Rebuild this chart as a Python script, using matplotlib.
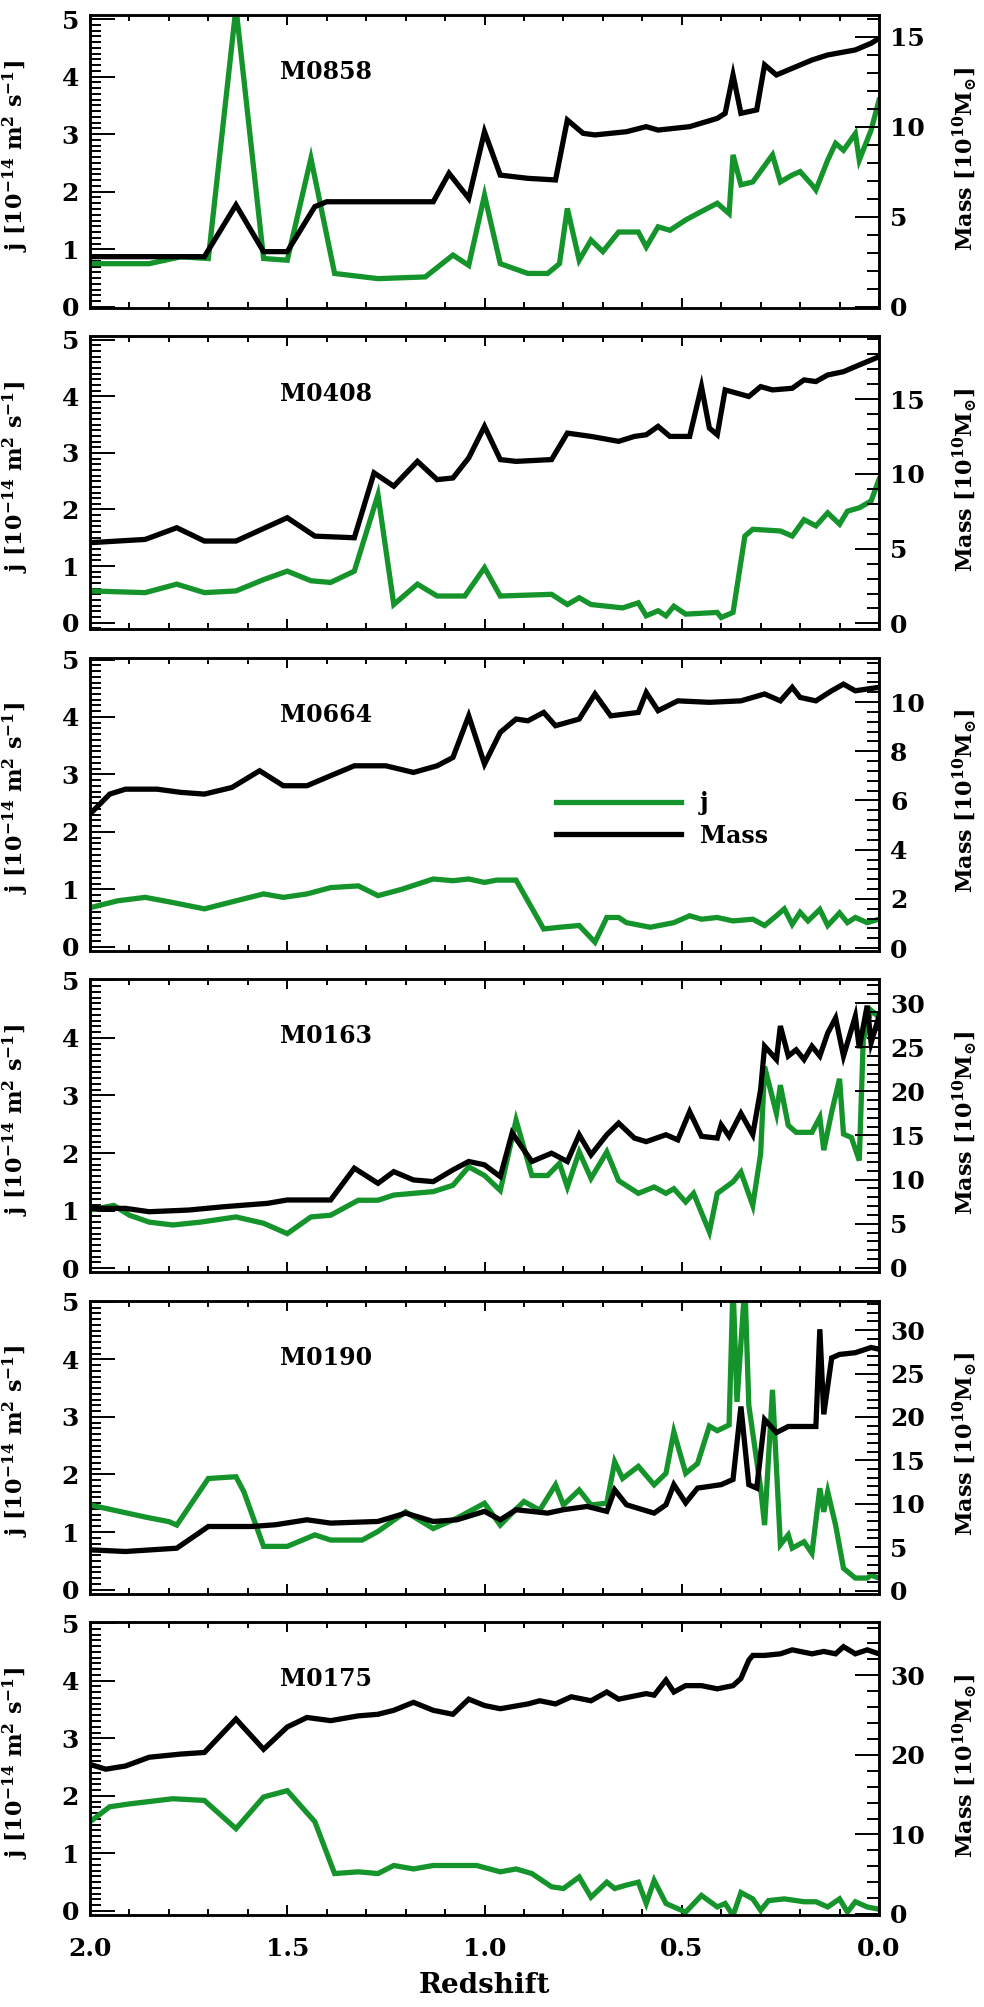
import numpy as np
import matplotlib
matplotlib.use("Agg")
import matplotlib.pyplot as plt
from matplotlib.ticker import MultipleLocator, FormatStrFormatter

# Halo names, top to bottom
halos = ["M0858", "M0408", "M0664", "M0163", "M0190", "M0175"]

# --- M0858 ---
z_j_0858 = [2.0, 1.85, 1.77, 1.7, 1.63, 1.56, 1.5, 1.44, 1.38, 1.27, 1.15, 1.08, 1.04, 1.0,
            0.96, 0.89, 0.84, 0.81, 0.79, 0.76, 0.73, 0.7, 0.66, 0.61, 0.59, 0.56, 0.53,
            0.49, 0.46, 0.41, 0.38, 0.37, 0.35, 0.32, 0.27, 0.25, 0.22, 0.2, 0.17, 0.16,
            0.13, 0.11, 0.09, 0.06, 0.05, 0.02, 0.0]
j_0858 = [0.75, 0.75, 0.87, 0.84, 5.2, 0.84, 0.81, 2.58, 0.58, 0.49, 0.52, 0.9, 0.72, 1.94,
          0.75, 0.58, 0.58, 0.75, 1.71, 0.81, 1.16, 0.96, 1.30, 1.30, 1.04, 1.39, 1.33,
          1.51, 1.62, 1.80, 1.62, 2.64, 2.12, 2.17, 2.64, 2.17, 2.29, 2.35, 2.12, 2.03,
          2.55, 2.84, 2.72, 3.01, 2.55, 3.07, 3.59]
z_m_0858 = [2.0, 1.71, 1.63, 1.56, 1.5, 1.43, 1.4, 1.13, 1.09, 1.04, 1.0, 0.96, 0.89, 0.82,
            0.79, 0.75, 0.72, 0.64, 0.59, 0.56, 0.48, 0.41, 0.39, 0.37, 0.35, 0.31, 0.29,
            0.26, 0.22, 0.17, 0.13, 0.06, 0.02, 0.0]
m_0858 = [2.78, 2.78, 5.65, 3.06, 3.06, 5.56, 5.83, 5.83, 7.41, 6.02, 9.72, 7.31, 7.13, 7.04,
          10.37, 9.63, 9.54, 9.72, 10.0, 9.81, 10.0, 10.46, 10.74, 12.87, 10.74, 10.93,
          13.43, 12.87, 13.24, 13.70, 13.98, 14.26, 14.63, 14.9]

# --- M0408 ---
z_j_0408 = [2.0, 1.86, 1.78, 1.71, 1.63, 1.56, 1.5, 1.44, 1.39, 1.33, 1.27, 1.23, 1.17, 1.12,
            1.05, 1.0, 0.96, 0.83, 0.79, 0.76, 0.73, 0.65, 0.61, 0.59, 0.56, 0.54, 0.52,
            0.49, 0.41, 0.4, 0.37, 0.34, 0.32, 0.25, 0.22, 0.19, 0.16, 0.13, 0.10, 0.08,
            0.05, 0.02, 0.0]
j_0408 = [0.56, 0.53, 0.68, 0.53, 0.56, 0.76, 0.91, 0.74, 0.71, 0.91, 2.26, 0.32, 0.68, 0.47,
          0.47, 0.97, 0.47, 0.50, 0.32, 0.44, 0.32, 0.26, 0.35, 0.12, 0.21, 0.12, 0.29,
          0.15, 0.18, 0.09, 0.18, 1.53, 1.65, 1.62, 1.53, 1.82, 1.71, 1.94, 1.74, 1.97,
          2.03, 2.15, 2.53]
z_m_0408 = [2.0, 1.86, 1.78, 1.71, 1.63, 1.5, 1.43, 1.33, 1.28, 1.23, 1.17, 1.12, 1.08, 1.04,
            1.0, 0.96, 0.92, 0.83, 0.79, 0.73, 0.66, 0.62, 0.59, 0.56, 0.53, 0.48, 0.45,
            0.43, 0.41, 0.39, 0.33, 0.30, 0.27, 0.22, 0.19, 0.16, 0.13, 0.09, 0.05, 0.0]
m_0408 = [5.4, 5.62, 6.4, 5.51, 5.51, 7.07, 5.84, 5.73, 10.07, 9.18, 10.84, 9.62, 9.73, 11.07,
          13.18, 10.96, 10.84, 10.96, 12.73, 12.51, 12.18, 12.51, 12.62, 13.18, 12.51,
          12.51, 15.84, 13.07, 12.62, 15.62, 15.18, 15.84, 15.62, 15.73, 16.29, 16.18,
          16.62, 16.84, 17.29, 17.84]

# --- M0664 ---
z_j_0664 = [2.0, 1.93, 1.86, 1.79, 1.71, 1.63, 1.56, 1.51, 1.45, 1.39, 1.32, 1.27, 1.21, 1.13,
            1.08, 1.04, 1.0, 0.97, 0.92, 0.85, 0.81, 0.76, 0.72, 0.69, 0.66, 0.64, 0.58,
            0.52, 0.48, 0.45, 0.41, 0.37, 0.32, 0.29, 0.26, 0.24, 0.22, 0.20, 0.18, 0.15,
            0.13, 0.10, 0.08, 0.06, 0.03, 0.0]
j_0664 = [0.68, 0.80, 0.86, 0.77, 0.66, 0.80, 0.92, 0.86, 0.92, 1.03, 1.06, 0.89, 1.0, 1.18,
          1.15, 1.18, 1.12, 1.16, 1.16, 0.31, 0.34, 0.37, 0.08, 0.51, 0.51, 0.42, 0.34,
          0.42, 0.54, 0.48, 0.51, 0.45, 0.48, 0.37, 0.54, 0.66, 0.39, 0.60, 0.45, 0.65,
          0.37, 0.59, 0.42, 0.51, 0.42, 0.48]
z_m_0664 = [2.0, 1.95, 1.91, 1.83, 1.77, 1.71, 1.64, 1.57, 1.51, 1.45, 1.40, 1.33, 1.25, 1.18,
            1.12, 1.08, 1.04, 1.0, 0.96, 0.92, 0.89, 0.85, 0.82, 0.76, 0.72, 0.68, 0.61,
            0.59, 0.56, 0.51, 0.43, 0.35, 0.29, 0.25, 0.22, 0.2, 0.16, 0.12, 0.09, 0.06, 0.0]
m_0664 = [5.45, 6.26, 6.46, 6.46, 6.33, 6.26, 6.53, 7.21, 6.6, 6.6, 6.94, 7.41, 7.41, 7.14,
          7.41, 7.75, 9.44, 7.48, 8.77, 9.31, 9.24, 9.58, 9.04, 9.31, 10.33, 9.44, 9.58,
          10.39, 9.65, 10.05, 9.99, 10.05, 10.33, 10.05, 10.6, 10.19, 10.05, 10.46, 10.73,
          10.46, 10.6]

# --- M0163 ---
z_j_0163 = [2.0, 1.94, 1.90, 1.85, 1.79, 1.72, 1.63, 1.56, 1.50, 1.44, 1.39, 1.32, 1.27, 1.23,
            1.13, 1.08, 1.04, 1.0, 0.96, 0.92, 0.88, 0.84, 0.81, 0.79, 0.76, 0.73, 0.69,
            0.66, 0.61, 0.57, 0.54, 0.52, 0.49, 0.47, 0.43, 0.41, 0.37, 0.35, 0.32, 0.30,
            0.29, 0.26, 0.25, 0.23, 0.21, 0.17, 0.15, 0.14, 0.12, 0.10, 0.09, 0.07, 0.05,
            0.04, 0.02, 0.0]
j_0163 = [1.01, 1.09, 0.92, 0.80, 0.75, 0.80, 0.89, 0.78, 0.60, 0.89, 0.92, 1.18, 1.18, 1.27,
          1.33, 1.44, 1.76, 1.61, 1.35, 2.57, 1.61, 1.61, 1.82, 1.41, 2.02, 1.56, 2.02,
          1.52, 1.30, 1.41, 1.30, 1.38, 1.15, 1.30, 0.63, 1.30, 1.50, 1.67, 1.09, 1.99,
          3.50, 2.69, 3.18, 2.48, 2.36, 2.36, 2.62, 2.05, 2.71, 3.29, 2.33, 2.27, 1.87,
          3.96, 4.48, 4.36]
z_m_0163 = [2.0, 1.91, 1.85, 1.75, 1.66, 1.55, 1.50, 1.39, 1.33, 1.27, 1.23, 1.18, 1.13, 1.08,
            1.04, 1.0, 0.96, 0.93, 0.88, 0.83, 0.79, 0.76, 0.73, 0.69, 0.66, 0.62, 0.59,
            0.54, 0.51, 0.48, 0.45, 0.41, 0.40, 0.38, 0.35, 0.32, 0.30, 0.29, 0.26, 0.25,
            0.23, 0.21, 0.19, 0.17, 0.15, 0.13, 0.11, 0.09, 0.06, 0.05, 0.03, 0.02, 0.0]
m_0163 = [6.74, 6.74, 6.36, 6.55, 6.93, 7.31, 7.69, 7.69, 11.29, 9.58, 10.9, 9.96, 9.77, 11.1,
          12.05, 11.67, 10.34, 15.27, 12.05, 12.99, 12.05, 15.08, 12.8, 15.08, 16.4, 14.7,
          14.3, 15.08, 14.5, 17.7, 14.9, 14.7, 16.2, 14.9, 17.5, 15.1, 20.2, 25.1, 23.6,
          27.4, 24.0, 24.7, 23.6, 25.1, 24.0, 26.6, 28.3, 24.0, 28.5, 24.9, 29.7, 25.5, 28.5]

# --- M0190 ---
z_j_0190 = [2.0, 1.94, 1.86, 1.80, 1.78, 1.70, 1.63, 1.61, 1.56, 1.50, 1.43, 1.39, 1.31, 1.27,
            1.20, 1.13, 1.07, 1.0, 0.96, 0.93, 0.90, 0.86, 0.82, 0.80, 0.76, 0.73, 0.69,
            0.67, 0.65, 0.61, 0.57, 0.54, 0.52, 0.49, 0.46, 0.43, 0.41, 0.38, 0.37, 0.36,
            0.34, 0.33, 0.30, 0.29, 0.27, 0.25, 0.23, 0.22, 0.19, 0.17, 0.15, 0.14, 0.13,
            0.11, 0.09, 0.06, 0.03, 0.02, 0.0]
j_0190 = [1.47, 1.38, 1.26, 1.18, 1.12, 1.93, 1.96, 1.70, 0.75, 0.75, 0.95, 0.86, 0.86, 1.01,
          1.35, 1.06, 1.24, 1.50, 1.12, 1.33, 1.53, 1.38, 1.82, 1.47, 1.73, 1.47, 1.50,
          2.22, 1.93, 2.14, 1.82, 2.02, 2.74, 2.02, 2.19, 2.84, 2.76, 2.86, 5.3, 3.26, 5.3,
          3.2, 1.76, 1.12, 3.47, 0.78, 0.95, 0.72, 0.83, 0.63, 1.76, 1.35, 1.70, 1.12,
          0.37, 0.20, 0.20, 0.25, 0.20]
z_m_0190 = [2.0, 1.91, 1.78, 1.70, 1.59, 1.53, 1.45, 1.39, 1.27, 1.20, 1.13, 1.07, 1.0, 0.96,
            0.92, 0.84, 0.80, 0.74, 0.69, 0.67, 0.64, 0.57, 0.54, 0.52, 0.49, 0.46, 0.40,
            0.37, 0.35, 0.33, 0.31, 0.29, 0.26, 0.23, 0.16, 0.15, 0.14, 0.12, 0.10, 0.06,
            0.02, 0.0]
m_0190 = [4.69, 4.5, 4.88, 7.38, 7.38, 7.58, 8.15, 7.77, 7.96, 8.92, 7.96, 8.15, 9.12, 8.15,
          9.31, 8.92, 9.31, 9.69, 9.12, 11.6, 9.88, 8.92, 9.88, 12.2, 10.1, 11.8, 12.2,
          12.8, 21.2, 12.2, 11.8, 19.7, 18.2, 18.9, 18.9, 30.1, 20.3, 26.8, 27.2, 27.4,
          28.0, 27.8]

# --- M0175 ---
z_j_0175 = [2.0, 1.95, 1.90, 1.79, 1.71, 1.63, 1.56, 1.50, 1.43, 1.38, 1.32, 1.27, 1.23, 1.18,
            1.13, 1.02, 0.96, 0.92, 0.88, 0.83, 0.80, 0.76, 0.73, 0.69, 0.67, 0.64, 0.61,
            0.59, 0.57, 0.54, 0.49, 0.45, 0.41, 0.39, 0.37, 0.35, 0.32, 0.30, 0.28, 0.24,
            0.19, 0.16, 0.13, 0.10, 0.08, 0.06, 0.03, 0.0]
j_0175 = [1.55, 1.81, 1.86, 1.95, 1.92, 1.43, 1.98, 2.09, 1.55, 0.65, 0.68, 0.65, 0.79, 0.73,
          0.79, 0.79, 0.68, 0.73, 0.65, 0.42, 0.39, 0.59, 0.24, 0.50, 0.39, 0.45, 0.50,
          0.13, 0.53, 0.13, -0.02, 0.27, 0.07, 0.13, -0.08, 0.32, 0.21, 0.01, 0.18, 0.21,
          0.16, 0.16, 0.07, 0.21, -0.02, 0.16, 0.07, 0.03]
z_m_0175 = [2.0, 1.96, 1.91, 1.85, 1.77, 1.71, 1.63, 1.56, 1.50, 1.45, 1.39, 1.32, 1.27, 1.23,
            1.18, 1.13, 1.08, 1.04, 1.0, 0.96, 0.89, 0.86, 0.82, 0.78, 0.73, 0.69, 0.66,
            0.59, 0.57, 0.54, 0.52, 0.49, 0.45, 0.41, 0.37, 0.35, 0.33, 0.32, 0.29, 0.25,
            0.22, 0.17, 0.14, 0.11, 0.09, 0.06, 0.03, 0.0]
m_0175 = [18.8, 18.2, 18.6, 19.7, 20.1, 20.3, 24.5, 20.7, 23.5, 24.7, 24.3, 24.9, 25.1, 25.6,
          26.6, 25.6, 25.1, 27.0, 26.2, 25.8, 26.4, 26.8, 26.4, 27.3, 26.8, 27.9, 27.0,
          27.7, 27.5, 29.4, 27.9, 28.7, 28.7, 28.3, 28.7, 29.6, 31.9, 32.5, 32.5, 32.7,
          33.2, 32.7, 33.0, 32.7, 33.6, 32.7, 33.2, 32.7]

z_j_all = [z_j_0858, z_j_0408, z_j_0664, z_j_0163, z_j_0190, z_j_0175]
j_all = [j_0858, j_0408, j_0664, j_0163, j_0190, j_0175]
z_m_all = [z_m_0858, z_m_0408, z_m_0664, z_m_0163, z_m_0190, z_m_0175]
m_all = [m_0858, m_0408, m_0664, m_0163, m_0190, m_0175]

# axis ranges and right-hand tick steps for each panel
j_lims = [(-0.02, 5.07), (-0.12, 5.06), (-0.07, 5.03), (-0.07, 5.02), (-0.07, 5.02), (-0.07, 5.02)]
m_lims = [(-0.07, 16.2), (-0.4, 19.2), (-0.11, 11.8), (-0.49, 32.7), (-0.35, 33.4), (-0.13, 36.7)]
m_major = [5, 5, 2, 5, 5, 10]

GREEN = "#15942b"
FONT = "DejaVu Serif"

plt.rcParams["font.family"] = FONT
plt.rcParams["font.weight"] = "bold"
plt.rcParams["axes.labelweight"] = "bold"
plt.rcParams["mathtext.fontset"] = "dejavuserif"
plt.rcParams["mathtext.default"] = "bf"

fig = plt.figure(figsize=(9.84, 20.07), dpi=100)
W, H = 984.0, 2007.0
left, width = 90 / W, 789 / W
ph = 293.0

for i, name in enumerate(halos):
    top_px = 15 + i * 321.4
    ax = fig.add_axes([left, 1 - (top_px + ph) / H, width, ph / H])
    ax2 = ax.twinx()

    gl, = ax.plot(z_j_all[i], j_all[i], color=GREEN, lw=3.8, solid_joinstyle="miter")
    kl, = ax2.plot(z_m_all[i], m_all[i], color="black", lw=3.8, solid_joinstyle="miter")

    ax.set_xlim(2.0, 0.0)
    ax.set_ylim(*j_lims[i])
    ax2.set_ylim(*m_lims[i])

    ax.xaxis.set_major_locator(MultipleLocator(0.5))
    ax.xaxis.set_minor_locator(MultipleLocator(0.1))
    ax.yaxis.set_major_locator(MultipleLocator(1))
    ax.yaxis.set_minor_locator(MultipleLocator(0.1))
    ax2.yaxis.set_major_locator(MultipleLocator(m_major[i]))
    ax2.yaxis.set_minor_locator(MultipleLocator(m_major[i] / 5))

    ax.tick_params(axis="x", which="both", direction="in", top=True, bottom=True,
                   labelsize=18, pad=16, width=1.4)
    ax.tick_params(axis="x", which="major", length=7)
    ax.tick_params(axis="x", which="minor", length=4)
    ax.tick_params(axis="y", which="both", direction="in", left=True, right=False,
                   labelsize=18, pad=8, width=1.4)
    ax.tick_params(axis="y", which="major", length=18)
    ax.tick_params(axis="y", which="minor", length=8)
    ax2.tick_params(axis="y", which="both", direction="in", right=True, left=False,
                    labelsize=18, pad=8, width=1.4)
    ax2.tick_params(axis="y", which="major", length=17)
    ax2.tick_params(axis="y", which="minor", length=9)

    for a in (ax, ax2):
        for s in a.spines.values():
            s.set_linewidth(1.8)

    if i < len(halos) - 1:
        ax.set_xticklabels([])
    else:
        ax.xaxis.set_major_formatter(FormatStrFormatter("%.1f"))
        ax.set_xlabel("Redshift", fontsize=20, labelpad=8)

    ax.set_ylabel(r"j [10$^{-14}$ m$^{2}$ s$^{-1}$]", fontsize=16)
    ax.yaxis.set_label_coords(-0.075, 0.52)
    ax2.set_ylabel(r"Mass [10$^{10}$M$_{\odot}$]", fontsize=16)
    ax2.yaxis.set_label_coords(1.091, 0.51)

    ax.text(0.241, 0.805, name, transform=ax.transAxes, fontsize=17,
            va="center", ha="left")

    if name == "M0664":
        ax.legend([gl, kl], ["j", "Mass"], loc="center left",
                  bbox_to_anchor=(0.59, 0.448), frameon=False, fontsize=17,
                  handlelength=5.3, handletextpad=0.8, labelspacing=0.35,
                  borderpad=0, borderaxespad=0)

fig.savefig("out.png", dpi=100)
